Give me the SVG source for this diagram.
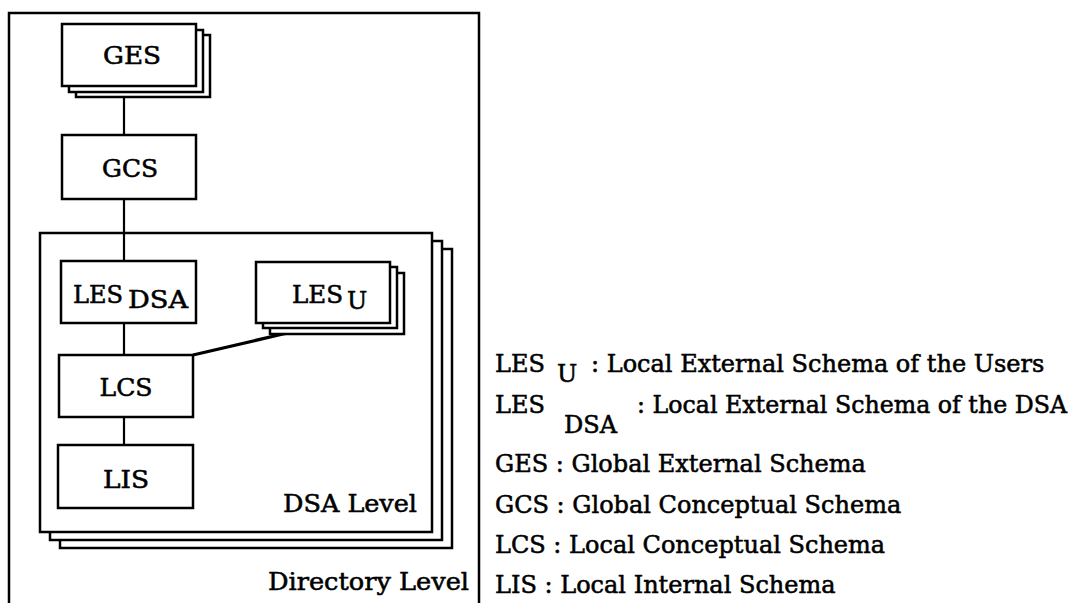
<svg xmlns="http://www.w3.org/2000/svg" width="1072" height="603" viewBox="0 0 1072 603">
<style>
  .bx{fill:#fff;stroke:#000;stroke-width:2.5}
  .frame{fill:none;stroke:#000;stroke-width:2.5}
  .ln{fill:none;stroke:#000;stroke-width:2.2}
  text{font-family:"DejaVu Serif","Liberation Serif",serif;font-size:24px;fill:#000;stroke:#000;stroke-width:0.55}
  .lg{font-size:24px}
</style>
<rect width="1072" height="603" fill="#fff"/>
<g id="directory-level">
  <path class="frame" d="M9,610 L9,13 L479,13 L479,610"/>
  <text x="469" y="590" text-anchor="end" textLength="201" lengthAdjust="spacingAndGlyphs">Directory Level</text>
</g>
<g id="dsa-level">
  <rect class="bx" x="60" y="249" width="392" height="299"/>
  <rect class="bx" x="50" y="241" width="392" height="299"/>
  <rect class="bx" x="40" y="233" width="392" height="299"/>
  <text x="417" y="512" text-anchor="end" textLength="134" lengthAdjust="spacingAndGlyphs">DSA Level</text>
</g>
<g id="connectors">
  <line class="ln" x1="124" y1="86" x2="124" y2="135"/>
  <line class="ln" x1="124" y1="199" x2="124" y2="261"/>
  <line class="ln" x1="124" y1="323" x2="124" y2="355"/>
  <line class="ln" x1="124" y1="417" x2="124" y2="445"/>
  <path d="M193,355 L283,334 L326,327" fill="none" stroke="#000" stroke-width="3.2"/>
</g>
<g id="ges">
  <rect class="bx" x="76" y="35" width="134" height="62"/>
  <rect class="bx" x="69" y="30" width="134" height="62"/>
  <rect class="bx" x="62" y="24" width="134" height="62"/>
  <text x="132" y="64" text-anchor="middle" textLength="58" lengthAdjust="spacingAndGlyphs">GES</text>
</g>
<g id="gcs">
  <rect class="bx" x="62" y="135" width="134" height="64"/>
  <text x="130" y="177" text-anchor="middle" textLength="56" lengthAdjust="spacingAndGlyphs">GCS</text>
</g>
<g id="les-dsa">
  <rect class="bx" x="61" y="261" width="135" height="62"/>
  <text x="73" y="303" textLength="50" lengthAdjust="spacingAndGlyphs">LES</text>
  <text x="128" y="308" textLength="60" lengthAdjust="spacingAndGlyphs">DSA</text>
</g>
<g id="les-u">
  <rect class="bx" x="270" y="273" width="134" height="61"/>
  <rect class="bx" x="263" y="267" width="134" height="61"/>
  <rect class="bx" x="256" y="262" width="134" height="61"/>
  <text x="292" y="303" textLength="51" lengthAdjust="spacingAndGlyphs">LES</text>
  <text x="347" y="309">U</text>
</g>
<g id="lcs">
  <rect class="bx" x="59" y="355" width="134" height="62"/>
  <text x="126" y="396" text-anchor="middle" textLength="53" lengthAdjust="spacingAndGlyphs">LCS</text>
</g>
<g id="lis">
  <rect class="bx" x="58" y="445" width="135" height="63"/>
  <text x="126" y="488" text-anchor="middle" textLength="46" lengthAdjust="spacingAndGlyphs">LIS</text>
</g>
<g id="legend">
  <text class="lg" x="495" y="372">LES</text>
  <text class="lg" x="557" y="382">U</text>
  <text class="lg" x="591" y="372">: Local External Schema of  the Users</text>
  <text class="lg" x="495" y="413">LES</text>
  <text class="lg" x="564" y="433">DSA</text>
  <text class="lg" x="637" y="413" textLength="430" lengthAdjust="spacingAndGlyphs">: Local External Schema of the DSA</text>
  <text class="lg" x="495" y="472">GES : Global External Schema</text>
  <text class="lg" x="495" y="513">GCS : Global Conceptual Schema</text>
  <text class="lg" x="495" y="553">LCS : Local Conceptual Schema</text>
  <text class="lg" x="495" y="593">LIS : Local Internal Schema</text>
</g>
</svg>
